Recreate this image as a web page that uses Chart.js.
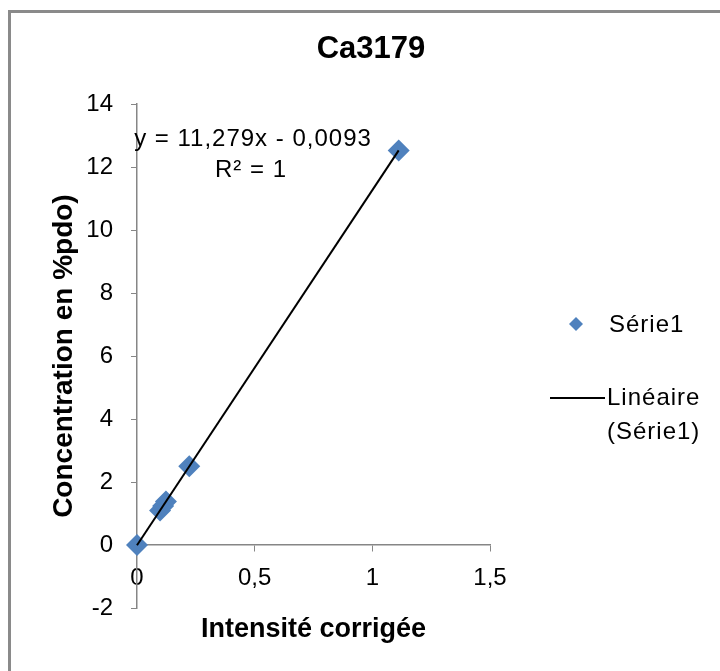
<!DOCTYPE html>
<html>
<head>
<meta charset="utf-8">
<script src="https://cdn.jsdelivr.net/npm/chart.js@4"></script>
<style>
html,body{margin:0;padding:0;background:#fff;}
#wrap{position:relative;width:720px;height:671px;overflow:hidden;background:#fff;}
#frame{position:absolute;left:8px;top:10px;width:800px;height:800px;border-left:3px solid #8a8a8a;border-top:3px solid #8a8a8a;}
canvas{position:absolute;left:0;top:0;}
</style>
</head>
<body>
<div id="wrap"><div id="frame"></div><canvas id="c" width="720" height="671"></canvas></div>
<script>
// ---- data ----
const intensity     = [0, 0.098, 0.111, 0.123, 0.222, 1.112];
const concentration = [0, 1.10, 1.24, 1.38, 2.50, 12.53];
const trendX = [0, 1.112];
const trendY = [-0.0093, 12.533];
const xTickValues = [0, 0.5, 1, 1.5];
const yTickValues = [-2, 0, 2, 4, 6, 8, 10, 12, 14];
const chartTitle = 'Ca3179';
const xTitle = 'Intensité corrigée';
const yTitle = 'Concentration en %pdo)';
const seriesLabel = 'Série1';
const trendLabel = ['Linéaire', '(Série1)'];
const equationLines = ['y = 11,279x - 0,0093', 'R² = 1'];

const FONT = "'Liberation Sans', Arial, sans-serif";
const AXIS = '#868686';
const BLUE = '#4F81BD';
const fmt = v => String(v).replace('.', ',');

const annotations = {
  id: 'annotations',
  afterDraw(chart) {
    const ctx = chart.ctx;
    const ds = chart.data.datasets;
    ctx.save();
    if ('letterSpacing' in ctx) ctx.letterSpacing = '1px';
    ctx.fillStyle = '#000';
    ctx.font = '24px ' + FONT;
    ctx.textBaseline = 'middle';
    // trendline equation
    ctx.textAlign = 'center';
    ctx.fillText(equationLines[0], 253, 139);
    ctx.fillText(equationLines[1], 251, 170);
    // legend
    ctx.textAlign = 'left';
    ctx.fillStyle = ds[1].backgroundColor;
    Chart.helpers.drawPoint(ctx, {pointStyle: 'rectRot', radius: 7, borderWidth: 0, rotation: 0}, 576, 324);
    ctx.fillStyle = '#000';
    ctx.fillText(ds[1].label, 609, 325);
    ctx.strokeStyle = ds[0].borderColor;
    ctx.lineWidth = 2;
    ctx.beginPath();
    ctx.moveTo(550, 398);
    ctx.lineTo(605, 398);
    ctx.stroke();
    ctx.fillText(trendLabel[0], 607, 398);
    ctx.fillText(trendLabel[1], 607, 432);
    ctx.restore();
  }
};

new Chart(document.getElementById('c'), {
  type: 'scatter',
  data: {
    datasets: [
      {
        label: trendLabel.join(' '),
        data: trendX.map((x, i) => ({x: x, y: trendY[i]})),
        showLine: true,
        borderColor: '#000',
        borderWidth: 2,
        pointRadius: 0,
        pointHoverRadius: 0,
        clip: false,
        order: 0
      },
      {
        label: seriesLabel,
        data: intensity.map((x, i) => ({x: x, y: concentration[i]})),
        pointStyle: 'rectRot',
        pointRadius: 11,
        pointHoverRadius: 11,
        backgroundColor: BLUE,
        borderColor: BLUE,
        borderWidth: 0,
        clip: false,
        order: 1
      }
    ]
  },
  options: {
    responsive: false,
    animation: false,
    events: [],
    layout: {padding: {left: 22, right: 0, top: 0, bottom: 63}},
    plugins: {
      legend: {display: false},
      tooltip: {enabled: false},
      title: {
        display: true,
        text: chartTitle,
        color: '#000',
        font: {family: FONT, size: 31, weight: 'bold'},
        padding: {top: 31, bottom: 36}
      }
    },
    scales: {
      x: {
        type: 'linear',
        position: {y: 0},
        min: 0,
        max: 1.5,
        afterBuildTicks: s => { s.ticks = xTickValues.map(v => ({value: v})); },
        ticks: {autoSkip: false, maxRotation: 0, padding: 13, color: '#000', font: {family: FONT, size: 24}, callback: v => fmt(v)},
        grid: {drawOnChartArea: false, drawTicks: true, tickLength: 6, color: AXIS, lineWidth: 1},
        border: {display: true, color: AXIS, width: 1.5},
        title: {display: true, text: xTitle, color: '#000', font: {family: FONT, size: 27, weight: 'bold'}, padding: {top: 8, bottom: 0}}
      },
      y: {
        type: 'linear',
        position: 'left',
        min: -2,
        max: 14,
        afterBuildTicks: s => { s.ticks = yTickValues.map(v => ({value: v})); },
        afterFit: s => { s.width = 115; },
        ticks: {padding: 18, color: '#000', font: {family: FONT, size: 24}, callback: v => fmt(v)},
        grid: {drawOnChartArea: false, drawTicks: true, tickLength: 6, color: AXIS, lineWidth: 1},
        border: {display: true, color: AXIS, width: 1.5},
        title: {display: true, text: yTitle, color: '#000', font: {family: FONT, size: 28, weight: 'bold'}, padding: {top: 25, bottom: 0}}
      },
      yR: {
        type: 'linear',
        position: 'right',
        display: true,
        afterFit: s => { s.width = 230; },
        ticks: {display: false},
        grid: {display: false},
        border: {display: false}
      }
    }
  },
  plugins: [annotations]
});
</script>
</body>
</html>
